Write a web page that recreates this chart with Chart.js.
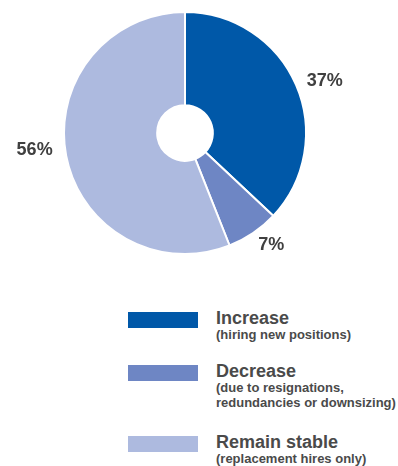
<!DOCTYPE html>
<html>
<head>
<meta charset="utf-8">
<script src="https://cdn.jsdelivr.net/npm/chart.js@4.4.0/dist/chart.umd.min.js"></script>
<style>
  body { margin: 0; background: #fff; font-family: "Liberation Sans", Arial, Helvetica, sans-serif; }
  #wrap { position: relative; width: 398px; height: 466px; }
  #chartBox { position: absolute; left: 0; top: 0; width: 398px; height: 270px; }
  .item { position: absolute; left: 0; width: 398px; }
  .swatch { position: absolute; left: 128px; top: 0; width: 70px; height: 16px; }
  .title { position: absolute; left: 216px; top: -4px; font-size: 18px; line-height: 20px; font-weight: bold; color: #4a4a4a; white-space: nowrap; }
  .sub { position: absolute; left: 216px; top: 15px; font-size: 13px; line-height: 15px; font-weight: bold; color: #4a4a4a; white-space: nowrap; }
</style>
</head>
<body>
<div id="wrap">
  <div id="chartBox"><canvas id="hiringChart" width="398" height="270"></canvas></div>
  <div id="legend"></div>
</div>
<script>
// 채용 계획 응답 비율
const categories = ["Increase", "Decrease", "Remain stable"];
const notes = [
  ["(hiring new positions)"],
  ["(due to resignations,", "redundancies or downsizing)"],
  ["(replacement hires only)"]
];
const shares = [37, 7, 56];
const colors = ["#0058a8", "#6e86c4", "#adbadf"];

// 범례 행 위치 (색상 박스 top)
const legendTops = [312, 365, 436];
// 퍼센트 라벨 미세 조정 (x, y)
const labelNudge = [[4, 7], [3, -10], [-5, -11]];

// 조각 바깥쪽에 퍼센트 표시
const pctLabels = {
  id: "pctLabels",
  afterDatasetsDraw(chart) {
    const ctx = chart.ctx;
    const meta = chart.getDatasetMeta(0);
    ctx.save();
    ctx.font = "bold 18px 'Liberation Sans', Arial, sans-serif";
    ctx.fillStyle = "#404040";
    ctx.textAlign = "center";
    ctx.textBaseline = "middle";
    meta.data.forEach((arc, i) => {
      const mid = (arc.startAngle + arc.endAngle) / 2;
      const r = arc.outerRadius + 27;
      const x = arc.x + Math.cos(mid) * r + labelNudge[i][0];
      const y = arc.y + Math.sin(mid) * r + labelNudge[i][1];
      ctx.fillText(shares[i] + "%", x, y);
    });
    ctx.restore();
  }
};

const ctx = document.getElementById("hiringChart").getContext("2d");
new Chart(ctx, {
  type: "doughnut",
  data: {
    labels: categories,
    datasets: [{
      data: shares,
      backgroundColor: colors,
      borderColor: "#ffffff",
      borderWidth: 2
    }]
  },
  options: {
    responsive: false,
    animation: false,
    cutout: "23%",
    layout: { padding: { left: 63, right: 91, top: 11, bottom: 15 } },
    plugins: {
      legend: { display: false },
      tooltip: { enabled: false }
    }
  },
  plugins: [pctLabels]
});

// 설명이 붙은 범례
const legend = document.getElementById("legend");
categories.forEach((name, i) => {
  const item = document.createElement("div");
  item.className = "item";
  item.style.top = legendTops[i] + "px";
  item.innerHTML =
    '<div class="swatch" style="background:' + colors[i] + '"></div>' +
    '<div class="title">' + name + '</div>' +
    '<div class="sub">' + notes[i].join("<br>") + '</div>';
  legend.appendChild(item);
});
</script>
</body>
</html>
